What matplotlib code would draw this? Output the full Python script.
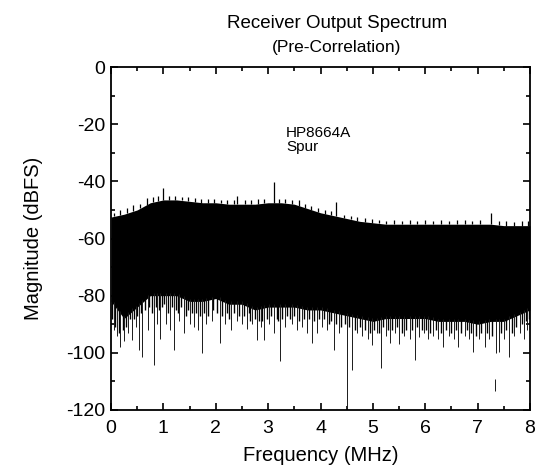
import matplotlib
matplotlib.use("Agg")
import matplotlib.pyplot as plt
import numpy as np

plt.rcParams['font.family'] = ['Liberation Sans', 'DejaVu Sans']
plt.rcParams['axes.unicode_minus'] = False

# ---- data ----
# knot frequencies (MHz) for the noise envelopes
env_freq = [0.0, 0.25, 0.5, 0.75, 1.0, 1.25, 1.5, 1.75, 2.0, 2.25, 2.5, 2.75,
            3.0, 3.25, 3.5, 3.75, 4.0, 4.25, 4.5, 4.75, 5.0, 5.25, 5.5, 5.75,
            6.0, 6.25, 6.5, 6.75, 7.0, 7.25, 7.5, 7.75, 8.0]
# top of the solid noise (dBFS)
env_top = [-52.5, -51.5, -50, -47.5, -46.5, -46.5, -47, -47.5, -47.5, -48,
           -48, -48, -47.5, -47.5, -48, -49.5, -51, -52, -53, -54, -54.5,
           -55, -55, -55, -55, -55, -55, -55, -55, -55, -55.5, -55.5, -55.5]
# bottom of the solid black core (dBFS)
env_core = [-82, -88, -84, -80, -80, -80, -82, -82, -81, -83, -83, -85,
            -84, -84, -84, -85, -85, -86, -87, -88, -89, -88, -88, -88,
            -88, -89, -89, -89, -90, -89, -89, -87, -85]

# small ragged tips above the noise (MHz, dBFS)
tip_freq = [0.05, 0.18, 0.3, 0.42, 0.55, 0.68, 0.8, 0.9, 0.99, 1.1, 1.22,
            1.35, 1.47, 1.6, 1.72, 1.85, 1.97, 2.1, 2.22, 2.35, 2.4, 2.55,
            2.68, 2.8, 2.93, 3.11, 3.2, 3.33, 3.45, 3.58, 3.7, 3.82, 3.95,
            4.08, 4.2, 4.3, 4.45, 4.58, 4.7, 4.85, 4.98, 5.12, 5.25, 5.4,
            5.55, 5.7, 5.85, 6.0, 6.15, 6.3, 6.45, 6.6, 6.75, 6.9, 7.05,
            7.25, 7.4, 7.55, 7.7, 7.85, 7.97]
tip_val = [-51.2, -50.2, -49.5, -48.3, -47.8, -46, -45.6, -45.2, -42.3,
           -45.3, -45, -45.4, -45.5, -46, -46.2, -46.3, -46.1, -46.5, -46.4,
           -46.6, -45.2, -46.6, -46.5, -46.2, -46.3, -40.2, -46.1, -46.2,
           -46.4, -46.7, -47.8, -48.5, -49.5, -50, -50.3, -47.3, -51.7,
           -52, -52.6, -53, -53.2, -53.6, -53.8, -53.6, -53.8, -53.7, -54,
           -53.6, -53.8, -53.6, -53.9, -53.5, -53.7, -53.8, -53.6, -51.2,
           -54, -53.9, -54.1, -54, -53.8]

# short ragged spikes just below the solid noise (MHz, dBFS)
short_freq = [0.02, 0.08, 0.15, 0.22, 0.29, 0.37, 0.44, 0.5, 0.57, 0.64,
              0.73, 0.78, 0.85, 0.91, 0.98, 1.02, 1.09, 1.16, 1.24, 1.27,
              1.34, 1.43, 1.47, 1.54, 1.62, 1.7, 1.78, 1.86, 1.95, 2.02,
              2.12, 2.22, 2.26, 2.34, 2.44, 2.53, 2.63, 2.66, 2.74, 2.82,
              2.89, 2.97, 3.06, 3.16, 3.19, 3.27, 3.36, 3.41, 3.5, 3.59,
              3.69, 3.78, 3.88, 3.97, 4.06, 4.16, 4.21, 4.3, 4.4, 4.46,
              4.55, 4.65, 4.75, 4.85, 4.94, 5.03, 5.12, 5.2, 5.29, 5.37,
              5.46, 5.55, 5.64, 5.75, 5.84, 5.93, 6.02, 6.1, 6.2, 6.3,
              6.4, 6.5, 6.59, 6.69, 6.8, 6.88, 6.97, 7.06, 7.18, 7.27,
              7.45, 7.55, 7.65, 7.74, 7.84, 7.92, 7.99]
short_val = [-88, -91, -93, -92, -91, -88, -88, -87, -86, -85,
             -84, -86, -84, -85, -84, -83, -86, -84, -85, -86,
             -84, -87, -85, -86, -86, -87, -86, -87, -85, -86,
             -87, -86, -88, -86, -87, -87, -86, -89, -88, -89,
             -89, -88, -87, -88, -89, -88, -87, -88, -87, -89,
             -88, -88, -89, -88, -88, -90, -89, -90, -91, -90,
             -91, -92, -91, -92, -93, -92, -93, -91, -92, -92,
             -91, -93, -92, -92, -91, -92, -92, -93, -92, -93,
             -92, -93, -92, -93, -92, -93, -94, -93, -93, -94,
             -93, -92, -93, -91, -90, -89, -88]

# long downward spikes (MHz, dBFS)
spike_freq = [0.05, 0.12, 0.18, 0.25, 0.33, 0.41, 0.47, 0.53, 0.60, 0.70,
              0.82, 0.88, 0.94, 1.05, 1.13, 1.20, 1.30, 1.39, 1.50, 1.58,
              1.67, 1.74, 1.82, 1.92, 2.08, 2.18, 2.29, 2.40, 2.50, 2.59,
              2.70, 2.78, 2.86, 2.92, 3.02, 3.12, 3.23, 3.32, 3.45, 3.55,
              3.65, 3.74, 3.83, 3.93, 4.02, 4.12, 4.25, 4.36, 4.51, 4.60,
              4.70, 4.80, 4.90, 4.98, 5.08, 5.16, 5.25, 5.33, 5.42, 5.50,
              5.60, 5.70, 5.80, 5.88, 5.97, 6.06, 6.15, 6.25, 6.34, 6.45,
              6.55, 6.63, 6.75, 6.84, 6.91, 7.02, 7.14, 7.22, 7.35, 7.41,
              7.50, 7.60, 7.70, 7.80, 7.88, 7.95]
spike_val = [-92, -94, -98, -96, -93, -95.4, -91, -99, -101.4, -92,
             -104.3, -90, -95, -90, -92, -99, -89, -93, -90, -91,
             -92, -100.2, -90, -89, -96.7, -90, -92, -89, -90, -91.5,
             -90, -95.5, -91, -95.5, -90, -93, -102.8, -91, -90, -92,
             -91, -93, -96.7, -93, -91, -92, -99, -93, -120, -106,
             -93, -94, -95, -97.3, -93, -105.3, -94, -96.6, -93, -97,
             -94, -95, -102.5, -94.5, -93, -95, -94, -95, -97.9, -94,
             -95, -97.9, -94, -95, -99.6, -95, -98, -95, -100, -99.6,
             -95, -101.5, -94, -93, -95, -92]

# isolated fragment near 7.33 MHz (MHz, top dBFS, bottom dBFS)
frag_freq = [7.33]
frag_top = [-109]
frag_bot = [-113.5]

title = "Receiver Output Spectrum"
subtitle = "(Pre-Correlation)"
xlabel = "Frequency (MHz)"
ylabel = "Magnitude (dBFS)"
annot_lines = ["HP8664A", "Spur"]

# ---- plot ----
fig = plt.figure(figsize=(5.39, 4.68), dpi=100)
ax = fig.add_axes([111/539, 1-410/468, 419/539, 343/468])

ax.fill_between(env_freq, env_core, env_top, color='black', lw=0)

top_at_tips = np.interp(tip_freq, env_freq, env_top)
ax.vlines(tip_freq, top_at_tips, tip_val, color='black', lw=0.9)

core_at_short = np.interp(short_freq, env_freq, env_core)
ax.vlines(short_freq, core_at_short + 1, short_val, color='black', lw=1.0)

core_at_spikes = np.interp(spike_freq, env_freq, env_core)
ax.vlines(spike_freq, core_at_spikes + 1, spike_val, color='#1a1a1a', lw=0.7)
ax.vlines(frag_freq, frag_top, frag_bot, color='#1a1a1a', lw=0.7)

ax.set_xlim(0, 8)
ax.set_ylim(-120, 0)
ax.set_xticks(range(0, 9))
ax.set_xticks(np.arange(0.5, 8, 1.0), minor=True)
ax.set_yticks(range(-120, 1, 20))
ax.set_yticks(range(-110, 0, 20), minor=True)
ax.tick_params(which='both', direction='in', top=True, right=True,
               labelsize=14, width=1.2)
ax.tick_params(which='major', length=5)
ax.tick_params(axis='y', which='major', pad=4)
ax.tick_params(axis='x', which='major', pad=7)
ax.tick_params(which='minor', length=3)
for s in ax.spines.values():
    s.set_linewidth(1.3)

ax.set_xlabel(xlabel, fontsize=14.5, labelpad=7)
ax.set_ylabel(ylabel, fontsize=14.5, labelpad=17)

ax.text(3.34, -24.5, annot_lines[0], fontsize=11)
ax.text(3.34, -29.3, annot_lines[1], fontsize=11)

fig.text(337/539, 1-28/468, title, ha='center', va='baseline', fontsize=13.5)
fig.text(337/539, 1-52/468, subtitle, ha='center', va='baseline', fontsize=12.5)

fig.savefig("out.png", dpi=100)
